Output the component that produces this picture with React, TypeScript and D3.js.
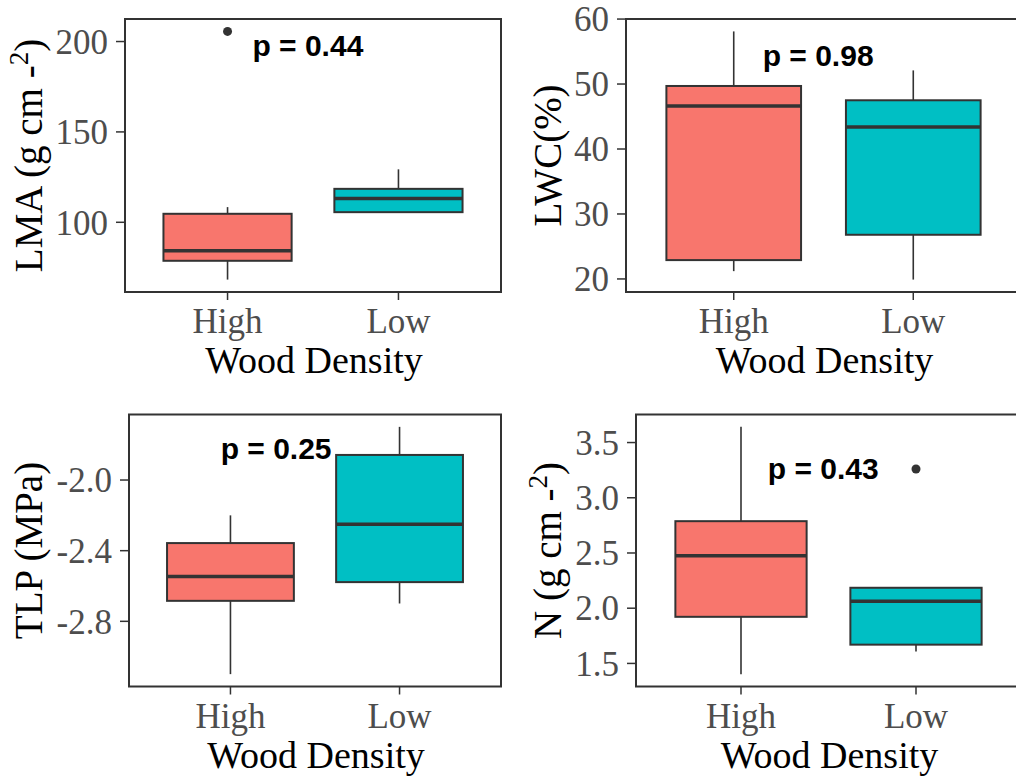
import { useEffect, useRef } from "react";
import * as d3 from "d3";

const groups = ["High", "Low"];
const groupFills = ["#F8766D", "#00BFC4"];

// [lower whisker, q1, median, q3, upper whisker] per group
const lmaBoxes = [
  [68.3, 78.7, 84.2, 104.7, 108.4],
  [105.6, 105.6, 113.1, 118.5, 129.3],
];
const lmaOutliers = [[205.6], []];
const lmaTicks = [100, 150, 200];

const lwcBoxes = [
  [21.2, 22.9, 46.6, 49.7, 58.1],
  [19.9, 26.8, 43.4, 47.5, 52.1],
];
const lwcOutliers = [[], []];
const lwcTicks = [20, 30, 40, 50, 60];

const tlpBoxes = [
  [-3.099, -2.684, -2.546, -2.357, -2.2],
  [-2.699, -2.578, -2.251, -1.858, -1.699],
];
const tlpOutliers = [[], []];
const tlpTicks = [-2.8, -2.4, -2.0];

const nBoxes = [
  [1.403, 1.922, 2.476, 2.788, 3.642],
  [1.609, 1.67, 2.064, 2.185, 2.185],
];
const nOutliers = [[], [3.26]];
const nTicks = [1.5, 2.0, 2.5, 3.0, 3.5];

const pLabels = ["p = 0.44", "p = 0.98", "p = 0.25", "p = 0.43"];
// label anchor in data units: [x position on category axis, y value]
const pAnchors = [
  [1.47, 198],
  [1.47, 54.5],
  [1.27, -1.817],
  [1.47, 3.27],
];

const yTitles = [
  { main: "LMA (g cm -", sup: "2", end: ")" },
  { main: "LWC(%)", sup: "", end: "" },
  { main: "TLP (MPa)", sup: "", end: "" },
  { main: "N (g cm -", sup: "2", end: ")" },
];

// ggplot-style labels use a plain hyphen for negatives
const fmtInt = (d: number) => d3.format("d")(d).replace("\u2212", "-");
const fmtOne = (d: number) => d3.format(".1f")(d).replace("\u2212", "-");

const panels = [
  { boxes: lmaBoxes, outliers: lmaOutliers, ticks: lmaTicks, fmt: fmtInt },
  { boxes: lwcBoxes, outliers: lwcOutliers, ticks: lwcTicks, fmt: fmtInt },
  { boxes: tlpBoxes, outliers: tlpOutliers, ticks: tlpTicks, fmt: fmtOne },
  { boxes: nBoxes, outliers: nOutliers, ticks: nTicks, fmt: fmtOne },
];

// panel frames in pixels
const frames = [
  { left: 125, right: 501, top: 19, bottom: 292, titleX: 42 },
  { left: 626, right: 1021, top: 19, bottom: 292, titleX: 561 },
  { left: 129, right: 501, top: 414.5, bottom: 686.5, titleX: 42 },
  { left: 636, right: 1021, top: 414.5, bottom: 686.5, titleX: 561 },
];

const SERIF = "'Times New Roman', 'Liberation Serif', serif";
const SANS = "Arial, 'Liberation Sans', sans-serif";

export default function App() {
  const ref = useRef<SVGSVGElement>(null);

  useEffect(() => {
    if (!ref.current) return;
    const svg = d3.select(ref.current);
    svg.selectAll("*").remove();

    panels.forEach((p, i) => {
      const f = frames[i];
      const g = svg.append("g");

      const allVals = [...p.boxes.flat(), ...p.outliers.flat()];
      const [lo, hi] = d3.extent(allVals) as [number, number];
      const pad = (hi - lo) * 0.05;
      const y = d3.scaleLinear().domain([lo - pad, hi + pad]).range([f.bottom, f.top]);
      const x = d3.scaleLinear().domain([0.4, 2.6]).range([f.left, f.right]);
      const half = x(1.375) - x(1);

      // panel background and border
      g.append("rect")
        .attr("x", f.left)
        .attr("y", f.top)
        .attr("width", f.right - f.left)
        .attr("height", f.bottom - f.top)
        .attr("fill", "white")
        .attr("stroke", "#333333")
        .attr("stroke-width", 2);

      // y ticks
      const yt = g.selectAll(".yt").data(p.ticks).join("g");
      yt.append("line")
        .attr("x1", f.left - 9)
        .attr("x2", f.left)
        .attr("y1", (d) => y(d))
        .attr("y2", (d) => y(d))
        .attr("stroke", "#333333")
        .attr("stroke-width", 1.5);
      yt.append("text")
        .attr("x", f.left - 17)
        .attr("y", (d) => y(d))
        .attr("dy", "0.35em")
        .attr("text-anchor", "end")
        .attr("font-family", SERIF)
        .attr("font-size", 35)
        .attr("fill", "#4D4D4D")
        .text((d) => p.fmt(d));

      // x ticks
      const xt = g.selectAll(".xt").data(groups).join("g");
      xt.append("line")
        .attr("x1", (_, j) => x(j + 1))
        .attr("x2", (_, j) => x(j + 1))
        .attr("y1", f.bottom)
        .attr("y2", f.bottom + 8)
        .attr("stroke", "#333333")
        .attr("stroke-width", 1.5);
      xt.append("text")
        .attr("x", (_, j) => x(j + 1))
        .attr("y", f.bottom + 41)
        .attr("text-anchor", "middle")
        .attr("font-family", SERIF)
        .attr("font-size", 35)
        .attr("fill", "#4D4D4D")
        .text((d) => d);

      // x title
      g.append("text")
        .attr("x", (f.left + f.right) / 2 + 1)
        .attr("y", f.bottom + 81)
        .attr("text-anchor", "middle")
        .attr("font-family", SERIF)
        .attr("font-size", 38)
        .attr("fill", "black")
        .text("Wood Density");

      // y title
      const t = yTitles[i];
      const title = g.append("text")
        .attr("transform", `translate(${f.titleX},${(f.top + f.bottom) / 2}) rotate(-90)`)
        .attr("text-anchor", "middle")
        .attr("font-family", SERIF)
        .attr("font-size", 39)
        .attr("fill", "black");
      title.append("tspan").text(t.main);
      if (t.sup) {
        title.append("tspan").attr("dy", -14).attr("font-size", 27).text(t.sup);
        title.append("tspan").attr("dy", 14).text(t.end);
      }

      // whiskers, boxes, medians
      const bx = g.selectAll(".box").data(p.boxes).join("g");
      bx.append("line")
        .attr("x1", (_, j) => x(j + 1))
        .attr("x2", (_, j) => x(j + 1))
        .attr("y1", (d) => y(d[4]))
        .attr("y2", (d) => y(d[3]))
        .attr("stroke", "#333333")
        .attr("stroke-width", 1.6);
      bx.append("line")
        .attr("x1", (_, j) => x(j + 1))
        .attr("x2", (_, j) => x(j + 1))
        .attr("y1", (d) => y(d[1]))
        .attr("y2", (d) => y(d[0]))
        .attr("stroke", "#333333")
        .attr("stroke-width", 1.6);
      bx.append("rect")
        .attr("x", (_, j) => x(j + 1) - half)
        .attr("y", (d) => y(d[3]))
        .attr("width", half * 2)
        .attr("height", (d) => y(d[1]) - y(d[3]))
        .attr("fill", (_, j) => groupFills[j])
        .attr("stroke", "#333333")
        .attr("stroke-width", 2);
      bx.append("line")
        .attr("x1", (_, j) => x(j + 1) - half)
        .attr("x2", (_, j) => x(j + 1) + half)
        .attr("y1", (d) => y(d[2]))
        .attr("y2", (d) => y(d[2]))
        .attr("stroke", "#333333")
        .attr("stroke-width", 3.5);

      // outliers
      p.outliers.forEach((vals, j) => {
        g.selectAll(null)
          .data(vals)
          .join("circle")
          .attr("cx", x(j + 1))
          .attr("cy", (d) => y(d))
          .attr("r", 4.5)
          .attr("fill", "#333333");
      });

      // p-value label
      g.append("text")
        .attr("x", x(pAnchors[i][0]))
        .attr("y", y(pAnchors[i][1]))
        .attr("dy", "0.36em")
        .attr("text-anchor", "middle")
        .attr("font-family", SANS)
        .attr("font-weight", "bold")
        .attr("font-size", 30)
        .attr("fill", "black")
        .text(pLabels[i]);
    });
  }, []);

  return (
    <svg
      ref={ref}
      width={1016}
      height={778}
      style={{ position: "absolute", left: 0, top: 0, background: "white" }}
    />
  );
}
